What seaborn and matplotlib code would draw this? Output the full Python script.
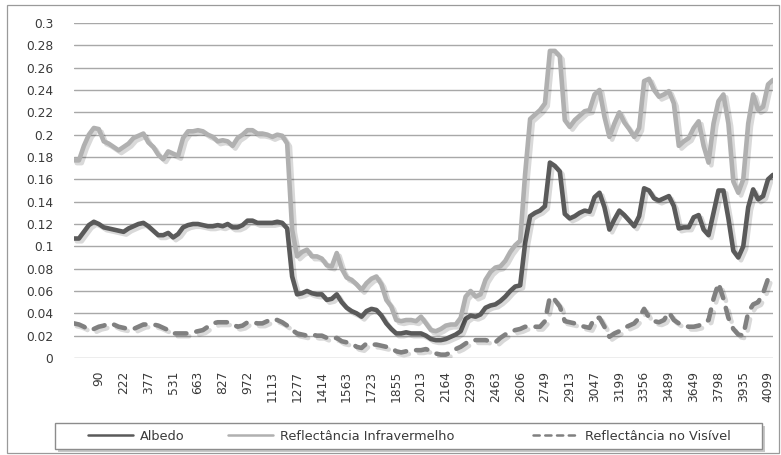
import numpy as np
import pandas as pd
import matplotlib
matplotlib.use("Agg")
import matplotlib.pyplot as plt
import matplotlib.patheffects as pe
from matplotlib.patches import Rectangle
import seaborn as sns

# ---------------- data ----------------
tick_labels = ["90", "222", "377", "531", "663", "827", "972", "1113", "1277", "1414",
               "1563", "1723", "1855", "2013", "2164", "2299", "2463", "2606", "2749",
               "2913", "3047", "3199", "3356", "3489", "3649", "3798", "3935", "4099"]
label_step = 5

albedo = [0.107, 0.107, 0.113, 0.119, 0.122, 0.120, 0.117, 0.116, 0.115, 0.114,
          0.113, 0.116, 0.118, 0.120, 0.121, 0.118, 0.114, 0.110, 0.110, 0.112,
          0.108, 0.111, 0.117, 0.119, 0.120, 0.120, 0.119, 0.118, 0.118, 0.119,
          0.118, 0.120, 0.117, 0.117, 0.119, 0.123, 0.123, 0.121, 0.121, 0.121,
          0.121, 0.122, 0.121, 0.116, 0.073, 0.057, 0.058, 0.060, 0.058, 0.057,
          0.057, 0.052, 0.053, 0.057, 0.050, 0.045, 0.042, 0.040, 0.037, 0.042,
          0.044, 0.043, 0.038, 0.031, 0.026, 0.022, 0.022, 0.023, 0.022, 0.022,
          0.022, 0.020, 0.017, 0.016, 0.016, 0.017, 0.019, 0.021, 0.024, 0.035,
          0.038, 0.037, 0.039, 0.045, 0.047, 0.048, 0.051, 0.055, 0.060, 0.064,
          0.065, 0.103, 0.127, 0.130, 0.132, 0.136, 0.175, 0.172, 0.167, 0.129,
          0.125, 0.127, 0.130, 0.132, 0.131, 0.144, 0.148, 0.135, 0.115, 0.124,
          0.132, 0.128, 0.123, 0.118, 0.127, 0.152, 0.150, 0.143, 0.141, 0.143,
          0.145, 0.136, 0.116, 0.117, 0.117, 0.126, 0.128, 0.115, 0.110, 0.130,
          0.150, 0.150, 0.125, 0.096, 0.090, 0.100, 0.135, 0.151, 0.142, 0.145,
          0.160, 0.164]

infravermelho = [0.177, 0.177, 0.190, 0.200, 0.206, 0.205, 0.194, 0.192, 0.189, 0.186,
                 0.189, 0.192, 0.197, 0.199, 0.201, 0.193, 0.189, 0.182, 0.178, 0.185,
                 0.183, 0.181, 0.197, 0.203, 0.203, 0.204, 0.203, 0.200, 0.198, 0.194,
                 0.195, 0.194, 0.190, 0.197, 0.200, 0.204, 0.204, 0.201, 0.201, 0.200,
                 0.198, 0.200, 0.199, 0.192, 0.115, 0.091, 0.095, 0.097, 0.091, 0.091,
                 0.089, 0.083, 0.082, 0.094, 0.080, 0.072, 0.070, 0.066, 0.061, 0.067,
                 0.071, 0.073, 0.066, 0.052, 0.046, 0.034, 0.033, 0.034, 0.034, 0.033,
                 0.037, 0.031, 0.025, 0.024, 0.026, 0.029, 0.030, 0.030, 0.036, 0.055,
                 0.060, 0.055, 0.057, 0.070, 0.077, 0.081, 0.082, 0.087, 0.095, 0.101,
                 0.105, 0.165, 0.214, 0.218, 0.222, 0.228, 0.275, 0.275, 0.270, 0.213,
                 0.207, 0.213, 0.217, 0.221, 0.222, 0.236, 0.240, 0.216, 0.198, 0.210,
                 0.220, 0.211, 0.205, 0.198, 0.206, 0.248, 0.250, 0.240, 0.234, 0.236,
                 0.239, 0.228, 0.190, 0.194, 0.197, 0.206, 0.212, 0.190, 0.175, 0.210,
                 0.230, 0.236, 0.210, 0.158, 0.148, 0.160, 0.210, 0.236, 0.222, 0.225,
                 0.245, 0.249]

visivel = [0.031, 0.030, 0.028, 0.025, 0.026, 0.028, 0.029, 0.031, 0.030, 0.028,
           0.027, 0.026, 0.026, 0.028, 0.030, 0.030, 0.030, 0.029, 0.027, 0.025,
           0.022, 0.022, 0.022, 0.022, 0.023, 0.024, 0.025, 0.028, 0.031, 0.032,
           0.032, 0.032, 0.030, 0.028, 0.029, 0.032, 0.032, 0.031, 0.031, 0.033,
           0.035, 0.034, 0.032, 0.029, 0.025, 0.022, 0.021, 0.020, 0.021, 0.020,
           0.020, 0.018, 0.017, 0.018, 0.015, 0.014, 0.013, 0.010, 0.009, 0.013,
           0.012, 0.012, 0.011, 0.010, 0.009, 0.006, 0.005, 0.006, 0.007, 0.007,
           0.007, 0.008, 0.006, 0.004, 0.003, 0.003, 0.005, 0.008, 0.010, 0.013,
           0.016, 0.016, 0.016, 0.016, 0.015, 0.014, 0.018, 0.021, 0.023, 0.025,
           0.026, 0.028, 0.028, 0.028, 0.028, 0.033, 0.055, 0.052, 0.046, 0.033,
           0.032, 0.031, 0.029, 0.028, 0.027, 0.036, 0.036, 0.028, 0.019, 0.022,
           0.024, 0.027, 0.029, 0.031, 0.036, 0.044, 0.036, 0.033, 0.032, 0.034,
           0.041, 0.034, 0.031, 0.029, 0.028, 0.028, 0.029, 0.031, 0.034, 0.053,
           0.067, 0.053, 0.036, 0.026, 0.021, 0.020, 0.041, 0.048, 0.050, 0.058,
           0.071, 0.072]

series_names = ["Albedo", "Reflectância Infravermelho", "Reflectância no Visível"]
y_ticks = [0, 0.02, 0.04, 0.06, 0.08, 0.1, 0.12, 0.14, 0.16, 0.18, 0.2,
           0.22, 0.24, 0.26, 0.28, 0.3]

# ---------------- figure ----------------
sns.set_theme(style="white")
plt.rcParams["font.family"] = ["DejaVu Sans"]

W, H = 781, 455
fig = plt.figure(figsize=(W / 100, H / 100), dpi=100)
fig.patch.set_facecolor("white")

ax = fig.add_axes([74 / W, 1 - 358 / H, 699 / W, 335 / H])

df = pd.DataFrame({
    "x": np.arange(len(albedo)),
    series_names[0]: albedo,
    series_names[1]: infravermelho,
    series_names[2]: visivel,
})

shadow = [pe.SimpleLineShadow(offset=(2, -2), shadow_color="black", alpha=0.15),
          pe.Normal()]

styles = [
    dict(color="#5a5a5a", linestyle="-"),
    dict(color="#b0b0b0", linestyle="-"),
    dict(color="#808080", linestyle=(0, (2.5, 2.2))),
]
for name, st in zip(series_names, styles):
    sns.lineplot(data=df, x="x", y=name, ax=ax, label=name, linewidth=3.3,
                 path_effects=shadow, solid_capstyle="round",
                 dash_capstyle="round", **st)

ax.set_xlim(0, len(albedo) - 1)
ax.set_ylim(0, 0.3)
ax.set_yticks(y_ticks)
ax.set_yticklabels([f"{v:g}" for v in y_ticks])
xt = [label_step * (k + 1) for k in range(len(tick_labels))]
ax.set_xticks(xt)
ax.set_xticklabels(tick_labels, rotation=90)
ax.tick_params(axis="both", length=0, labelsize=8.8, colors="#3a3a3a")
ax.tick_params(axis="y", pad=15)
ax.tick_params(axis="x", pad=9)
ax.set_xlabel("")
ax.set_ylabel("")
for s in ax.spines.values():
    s.set_visible(False)
ax.yaxis.grid(True, color="#a8a8a8", linewidth=1.0)
ax.xaxis.grid(False)
ax.set_axisbelow(True)

# legend: frame with shadow, then the three entries at their places
ax.get_legend().remove()
handles, labels = ax.get_legend_handles_labels()
fig.patches.append(Rectangle((58 / W, 1 - 452 / H), 707 / W, 26 / H,
                             transform=fig.transFigure, facecolor="#c8c8c8",
                             edgecolor="none", zorder=1))
fig.patches.append(Rectangle((55 / W, 1 - 449 / H), 707 / W, 26 / H,
                             transform=fig.transFigure, facecolor="white",
                             edgecolor="#8c8c8c", linewidth=1.0, zorder=2))
entry_x = [88, 228, 533]
for h, lab, ex in zip(handles, labels, entry_x):
    lg = fig.legend([h], [lab], loc="center left",
                    bbox_to_anchor=(ex / W, 1 - 436 / H), frameon=False,
                    fontsize=9.3, handlelength=3.5, handletextpad=0.5,
                    borderpad=0, borderaxespad=0, labelcolor="#3a3a3a")
    lg.set_zorder(5)
    for ln in lg.get_lines():
        ln.set_linewidth(1.8)
        ln.set_path_effects([])

# outer chart border
fig.patches.append(Rectangle((7 / W, 2 / H), 772 / W, 448 / H, transform=fig.transFigure,
                             fill=False, edgecolor="#9a9a9a", linewidth=0.9, zorder=0))

fig.savefig("out.png", dpi=100)
